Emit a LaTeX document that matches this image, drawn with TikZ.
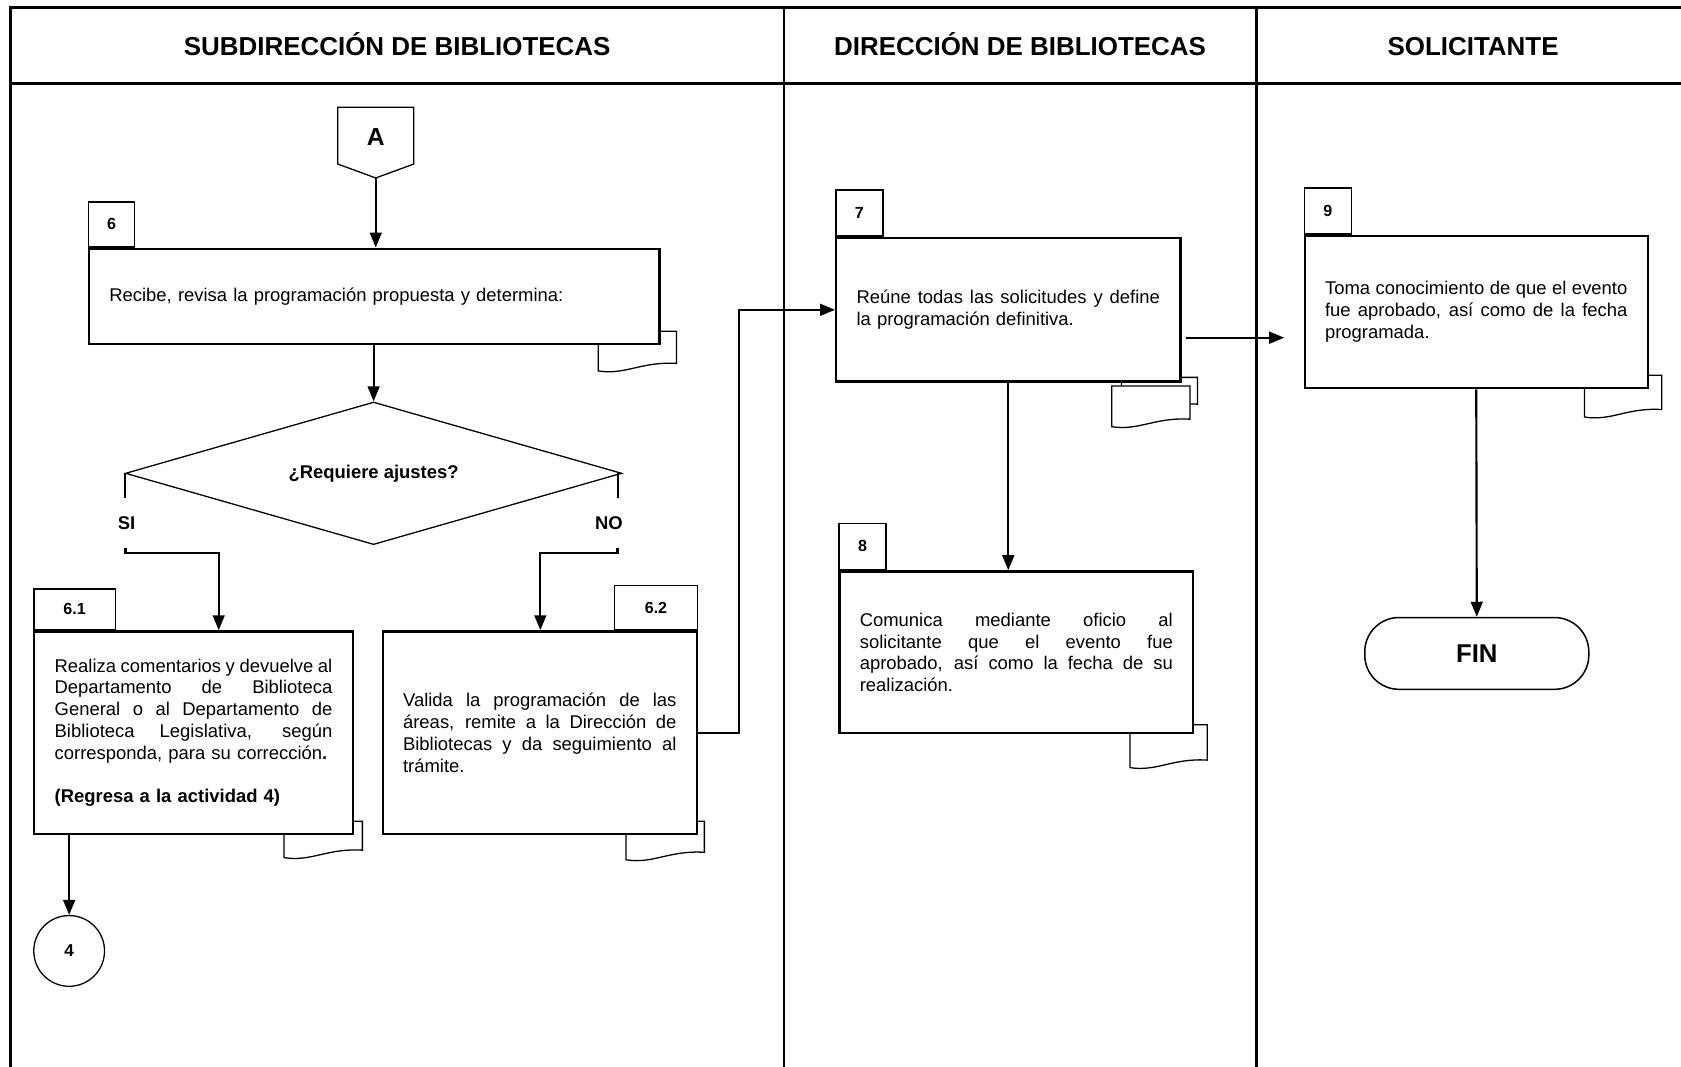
\documentclass[tikz,border=0pt]{standalone}
\usepackage{fontspec}
\setmainfont{Liberation Sans}
\usetikzlibrary{arrows.meta,shapes.geometric,calc}
\newcommand{\jl}[2]{\leavevmode\hbox to #1{\spaceskip=0.278em plus 1fil minus 0.08em\relax #2}}
\newcommand{\docshape}[4]{\filldraw[docline] (#1,#2) -- (#3,#2) -- (#3,{#4-7}) .. controls ({#1+0.55*(#3-#1)},{#4-9}) and ({#1+0.35*(#3-#1)},{#4+4}) .. (#1,#4) -- cycle;}
\begin{document}
\begin{tikzpicture}[x=0.5pt,y=-0.5pt,
  frame/.style={line width=1.5pt},
  lane/.style={line width=1pt},
  hdr/.style={font=\fontsize{12.1}{14}\selectfont\bfseries, anchor=base},
  box/.style={draw, line width=1.1pt, fill=white, inner xsep=9.5pt, inner ysep=0pt, align=left, font=\fontsize{8.6}{10.15}\selectfont},
  tab/.style={draw, line width=0.7pt, fill=white, font=\fontsize{7.5}{9}\selectfont\bfseries, inner sep=0pt},
  docline/.style={draw, fill=white, line width=0.6pt},
  arr/.style={line width=1pt, -{Triangle[length=7pt,width=5.5pt]}},
  lin/.style={line width=1pt},
  lbl/.style={font=\fontsize{8.6}{10}\selectfont\bfseries, inner sep=0pt},
  thinl/.style={line width=0.6pt}]
\useasboundingbox (0,0) rectangle (1568,995);
% frame
\draw[frame] (1600,7) -- (10,7) -- (10,1010);
\draw[frame] (10,78) -- (1600,78);
\draw[lane] (731,7) -- (731,1010);
\draw[lane] (1172,7) -- (1172,1010);
\node[hdr] (h1) at (370.5,51.5) {SUBDIRECCIÓN DE BIBLIOTECAS};
\node[hdr] (h2) at (951.5,51.5) {DIRECCIÓN DE BIBLIOTECAS};
\node[hdr] (h3) at (1374,51.5) {SOLICITANTE};
% connector A
\draw[thinl, fill=white] (315,100) -- (386,100) -- (386,153) -- (350.5,166) -- (315,153) -- cycle;
\node[font=\fontsize{11.5}{13}\selectfont\bfseries] (A) at (350.5,127.5) {A};
\coordinate (Atip) at (350.5,166);
% documents (behind boxes)
\docshape{558}{309}{631}{346}
\docshape{265}{766}{338}{800}
\docshape{584}{766}{657}{802}
\docshape{1046}{352}{1117}{384}
\docshape{1037}{360}{1110}{398}
\docshape{1054}{676}{1126}{716}
\docshape{1478}{350}{1550}{389}
% boxes
\node[box, minimum width=266pt, minimum height=44.5pt, text width=247pt] (b6) at (349,276.5)
  {Recibe, revisa la programación propuesta y determina:};
\node[tab, minimum width=21.5pt, minimum height=21pt, anchor=south west] (t6) at (b6.north west) {6};
\node[draw, diamond, line width=0.6pt, minimum width=231.5pt, minimum height=66.5pt, aspect=3.5, inner sep=0pt,
  font=\fontsize{8.6}{10}\selectfont\bfseries] (dia) at (348.5,441.5) {¿Requiere ajustes?};
\node[box, minimum width=148.5pt, minimum height=94.5pt, text width=129.5pt] (b61) at (180.5,683.5)
  {\jl{129.5pt}{Realiza comentarios y devuelve al}\\
   \jl{129.5pt}{Departamento de Biblioteca}\\
   \jl{129.5pt}{General o al Departamento de}\\
   \jl{129.5pt}{Biblioteca Legislativa, según}\\
   corresponda, para su corrección\textbf{.}\\[10.15pt]
   \textbf{(Regresa a la actividad 4)}};
\node[tab, minimum width=38pt, minimum height=19pt, anchor=south west] (t61) at (b61.north west) {6.1};
\node[box, minimum width=146.5pt, minimum height=94.5pt, text width=127.5pt] (b62) at (503.5,683.5)
  {\jl{127.5pt}{Valida la programación de las}\\
   \jl{127.5pt}{áreas, remite a la Dirección de}\\
   \jl{127.5pt}{Bibliotecas y da seguimiento al}\\
   trámite.};
\node[tab, minimum width=38.5pt, minimum height=20.5pt, anchor=south east] (t62) at (b62.north east) {6.2};
\node[box, minimum width=160.5pt, minimum height=67pt, text width=141.5pt] (b7) at (940.5,289)
  {\jl{141.5pt}{Reúne todas las solicitudes y define}\\
   la programación definitiva.};
\node[tab, minimum width=22pt, minimum height=21.5pt, anchor=south west] (t7) at (b7.north west) {7};
\node[box, minimum width=165pt, minimum height=75.5pt, text width=146pt] (b8) at (948,608.5)
  {\jl{146pt}{Comunica mediante oficio al}\\
   \jl{146pt}{solicitante que el evento fue}\\
   \jl{146pt}{aprobado, así como la fecha de su}\\
   realización.};
\node[tab, minimum width=22pt, minimum height=21.5pt, anchor=south west] (t8) at (b8.north west) {8};
\node[box, minimum width=160pt, minimum height=71pt, text width=141pt] (b9) at (1377,291)
  {\jl{141pt}{Toma conocimiento de que el evento}\\
   \jl{141pt}{fue aprobado, así como de la fecha}\\
   programada.};
\node[tab, minimum width=22pt, minimum height=21.5pt, anchor=south west] (t9) at (b9.north west) {9};
\node[draw, circle, line width=0.6pt, minimum size=33pt, inner sep=0pt, font=\fontsize{8}{9}\selectfont\bfseries] (c4) at (64.5,887) {4};
\node[draw, rounded corners=16pt, line width=0.7pt, minimum width=104.5pt, minimum height=33.5pt,
  font=\fontsize{12}{14}\selectfont\bfseries] (fin) at (1377.5,609.5) {FIN};
% labels
\node[lbl] (si) at (118,488) {SI};
\node[lbl] (no) at (568,488) {NO};
% connectors
\draw[arr] (Atip) -- (Atip |- b6.north);
\draw[arr] (b6.south -| dia.north) -- (dia.north);
\draw[lin] (dia.west) -- ++(0,23);
\coordinate (siB) at (117,511);
\coordinate (siC) at (204,516);
\draw[arr] (siB) -- (siB |- siC) -- (siC) -- (siC |- b61.north);
\draw[lin] ([xshift=-2pt]dia.east) -- ++(0,23);
\coordinate (noB) at (576,511);
\coordinate (noC) at (504,516);
\draw[arr] (noB) -- (noB |- noC) -- (noC) -- (noC |- b62.north);
\draw[arr] (b61.south -| c4.north) -- (c4.north);
\draw[arr] (b62.east) -- ++(38,0) |- (b7.west);
\draw[arr] (b7.south) -- (b7.south |- b8.north);
\draw[arr, shorten <=2pt, shorten >=9pt] ([yshift=-13pt]b7.east) -- ([yshift=-13pt]b7.east -| b9.west);
\draw[arr] (b9.south) -- (fin.north);
\end{tikzpicture}
\end{document}
